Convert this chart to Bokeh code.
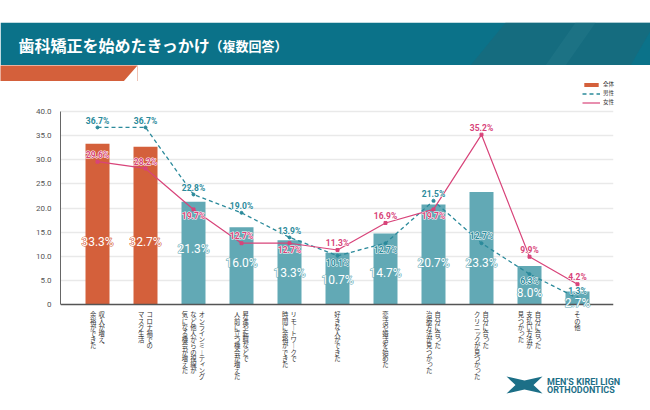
from bokeh.plotting import figure
from bokeh.layouts import column
from bokeh.models import (ColumnDataSource, Range1d, FixedTicker, LabelSet, Label, Span,
                          BoxAnnotation, Legend, LegendItem)
from bokeh.core.properties import value
from bokeh.embed import file_html
from bokeh.resources import INLINE

# ---------------- data ----------------
cat_lines = [
    ["収入が増え、", "余裕ができた"],
    ["コロナ禍での", "マスク生活"],
    ["オンラインミーティング", "など他人からの視線が", "気になる機会が増えた"],
    ["昇進や転職などで", "人前に立つ機会が増えた"],
    ["リモートワークで", "時間に余裕ができた"],
    ["好きな人ができた"],
    ["恋活や婚活を始めた"],
    ["自分に合った", "治療方法が見つかった"],
    ["自分に合った", "クリニックが見つかった"],
    ["自分に合った", "支払い方法が", "見つかった"],
    ["その他"],
]
zentai = [33.3, 32.7, 21.3, 16.0, 13.3, 10.7, 14.7, 20.7, 23.3, 8.0, 2.7]
male = [36.7, 36.7, 22.8, 19.0, 13.9, 10.1, 12.7, 21.5, 12.7, 6.3, 1.3]
female = [29.6, 28.2, 19.7, 12.7, 12.7, 11.3, 16.9, 19.7, 35.2, 9.9, 4.2]
y_ticks = [0, 5, 10, 15, 20, 25, 30, 35, 40]
y_tick_labels = ["0", "5.0", "10.0", "15.0", "20.0", "25.0", "30.0", "35.0", "40.0"]
series_names = ["全体", "男性", "女性"]
title_main = "歯科矯正を始めたきっかけ"
title_sub = "（複数回答）"
logo_lines = ["MEN’S KIREI LIGN", "ORTHODONTICS"]

# label placement (layout, not data)
bar_label_pos = [13.0, 13.0, 11.4, 8.5, 6.6, 5.0, 6.5, 8.5, 8.5, 2.3, 0.4]
male_side = [1, 1, 1, 1, 1, -1, -1, 1, 1, -1, 1]
female_side = [1, 1, -1, 1, -1, 1, 1, -1, 1, 1, 1]

# ---------------- styles ----------------
ORANGE = "#d4603b"
TEAL_BAR = "#62a9b5"
TEAL_LINE = "#2b8a9b"
PINK = "#d8447a"
HEADER = "#0b7289"
LOGO = "#1c6f87"
JP = "Noto Sans CJK JP"

W = 650
L, R = 60, 613            # chart frame left/right in page px
Y0PX = 304                # page px of value 0
YS = 4.825                # px per unit
X0, X1 = -0.771, 10.75
XS = (R - L) / (X1 - X0)

HA1 = 65                  # header band
HS = 16                   # orange accent strip
HL = 27                   # legend strip
BTOP, BBOT = HA1 + HS + HL, 309
HC = 410 - BBOT
ACC_TOP, ACC_BOT = 137, 123   # accent right edge (top / bottom), px

XA0, XA1 = X0 - L / XS, X1 + (W - R) / XS


def xd(px):
    return X0 + (px - L) / XS


def bare(h, name):
    f = figure(width=W, height=h, x_range=Range1d(XA0, XA1), y_range=Range1d(h, 0),
               output_backend="svg", toolbar_location=None, x_axis_type=None, y_axis_type=None,
               min_border=0, min_border_left=0, min_border_right=0, min_border_top=0,
               min_border_bottom=0, name=name, frame_align=False)
    f.outline_line_color = None
    f.grid.visible = False
    return f


# ================= header band =================
pa = bare(HA1, "header")
pa.add_layout(BoxAnnotation(left=xd(0), right=xd(650), top=22.3, bottom=65,
                            fill_color=HEADER, fill_alpha=1, line_color=None))
pa.patch(x=[xd(470), xd(505), xd(650), xd(650), xd(630)], y=[65, 22.3, 22.3, 30, 65],
         fill_color="#1f6676", fill_alpha=0.5, line_color=None, level="overlay")
pa.patch(x=[xd(545), xd(575), xd(595), xd(565)], y=[65, 22.3, 22.3, 65],
         fill_color="#2a7f8e", fill_alpha=0.35, line_color=None, level="overlay")
pa.add_layout(Label(x=xd(18), y=44, text=title_main, text_color="white",
                    text_font=JP, text_font_size="16px", text_font_style="bold",
                    text_baseline="middle"))
pa.add_layout(Label(x=xd(209), y=44.5, text=title_sub, text_color="white",
                    text_font=JP, text_font_size="13px", text_font_style="bold",
                    text_baseline="middle"))

# ================= orange accent strip (frame background is the accent) =================
ps = figure(width=W, height=HS, x_range=Range1d(0, ACC_TOP), y_range=Range1d(HS, 0),
            output_backend="svg", toolbar_location=None, x_axis_type=None, y_axis_type=None,
            min_border=0, min_border_left=0, min_border_right=W - ACC_TOP, min_border_top=0,
            min_border_bottom=0, frame_align=False, name="accent")
ps.outline_line_color = None
ps.grid.visible = False
ps.background_fill_color = ORANGE
ps.border_fill_color = "white"
ps.patch(x=[ACC_TOP, ACC_TOP, ACC_BOT], y=[0, HS, HS], fill_color="white", line_color=None)

# ================= legend strip =================
pl = bare(HL, "legend")
offview = ColumnDataSource(dict(x=[XA0 - 5], y=[0]))
lb = pl.vbar(x="x", top="y", width=0.5, fill_color=ORANGE, line_color=None, source=offview)
lm = pl.line("x", "y", source=offview, line_color=TEAL_LINE, line_width=1.3, line_dash="4 3")
lf = pl.line("x", "y", source=offview, line_color=PINK, line_width=1.2)
legend = Legend(items=[LegendItem(label=series_names[0], renderers=[lb]),
                       LegendItem(label=series_names[1], renderers=[lm]),
                       LegendItem(label=series_names[2], renderers=[lf])],
                location=(582, 2), orientation="vertical",
                glyph_width=18, glyph_height=5, label_height=5, spacing=1, padding=0, margin=0,
                label_standoff=3, label_text_font=JP, label_text_font_size="5.5px",
                label_text_color="#333333", border_line_color=None, background_fill_alpha=0)
pl.add_layout(legend)

# ================= chart figure =================
hb = BBOT - BTOP
p = figure(width=W, height=hb, x_range=Range1d(X0, X1),
           y_range=Range1d(-(BBOT - Y0PX) / YS, (Y0PX - BTOP) / YS),
           output_backend="svg", toolbar_location=None, frame_align=False,
           min_border_left=L, min_border_right=W - R, min_border_top=0, min_border_bottom=0)
p.outline_line_color = None
p.xaxis.visible = False

p.yaxis.ticker = FixedTicker(ticks=y_ticks)
p.yaxis.bounds = (y_ticks[0], y_ticks[-1])
p.yaxis.major_label_overrides = {t: s for t, s in zip(y_ticks, y_tick_labels)}
p.yaxis.major_tick_line_color = None
p.yaxis.minor_tick_line_color = None
p.yaxis.major_tick_out = 0
p.yaxis.major_tick_in = 0
p.yaxis.major_label_standoff = 9
p.yaxis.major_label_text_font = "Roboto"
p.yaxis.major_label_text_font_size = "8px"
p.yaxis.major_label_text_color = "#555555"
p.yaxis.axis_line_color = "#666666"
p.yaxis.axis_line_width = 1

p.xgrid.visible = False
p.ygrid.ticker = FixedTicker(ticks=y_ticks[1:])
p.ygrid.grid_line_color = "#e9e9e9"
p.ygrid.grid_line_width = 1.6

p.add_layout(Span(location=0, dimension="width", line_color="#555555", line_width=1.5))

idx = list(range(len(zentai)))
bar_colors = [ORANGE if i < 2 else TEAL_BAR for i in idx]
src = ColumnDataSource(dict(
    x=idx, zentai=zentai, male=male, female=female, color=bar_colors,
    zl=[f"{v:.1f}%" for v in zentai], zpos=bar_label_pos,
    ml=[f"{v:.1f}%" for v in male], fl=[f"{v:.1f}%" for v in female],
    my=[v + s * 6.8 / YS for v, s in zip(male, male_side)],
    fy=[v + s * 6.8 / YS for v, s in zip(female, female_side)],
))

p.vbar(x="x", top="zentai", width=0.5, fill_color="color", line_color=None, source=src)
p.line("x", "male", source=src, line_color=TEAL_LINE, line_width=1.3, line_dash="4 3")
p.scatter("x", "male", source=src, size=3, color=TEAL_LINE, marker="circle")
p.line("x", "female", source=src, line_color=PINK, line_width=1.2)
p.scatter("x", "female", source=src, size=3, color=PINK, marker="square")

# bar value labels: halo in bar colour, then white text
p.add_layout(LabelSet(x="x", y="zpos", text="zl", source=src, text_align="center",
                      text_baseline="middle", text_color="color", text_font=value("Roboto"),
                      text_font_size="12px", text_outline_color="color"))
p.add_layout(LabelSet(x="x", y="zpos", text="zl", source=src, text_align="center",
                      text_baseline="middle", text_color="white", text_font=value("Roboto"),
                      text_font_size="12px"))
# line value labels: white halo, then coloured text
for col, colr in (("m", TEAL_LINE), ("f", PINK)):
    p.add_layout(LabelSet(x="x", y=col + "y", text=col + "l", source=src, text_align="center",
                          text_baseline="middle", text_color="white", text_font=value("Roboto"),
                          text_font_size="8.5px", text_font_style="bold",
                          text_outline_color="white"))
    p.add_layout(LabelSet(x="x", y=col + "y", text=col + "l", source=src, text_align="center",
                          text_baseline="middle", text_color=colr, text_font=value("Roboto"),
                          text_font_size="8.5px", text_font_style="bold"))

# ================= footer figure (vertical category labels, logo) =================
pc = bare(HC, "footer")
vert = {"、": "︑", "ー": "︱"}
small = set("ゃゅょっャュョッァィゥェォ")
cx, cy, ct = [], [], []
for i, cols in enumerate(cat_lines):
    n = len(cols)
    for j, colt in enumerate(cols):
        off = ((n - 1) / 2 - j) * 8.5
        for k, ch in enumerate(colt):
            ox, oy = (0.8, -0.8) if ch in small else (0.0, 0.0)
            cx.append(i + (off + ox) / XS)
            cy.append(5.3 + k * 6.2 + oy)
            ct.append(vert.get(ch, ch))
csrc = ColumnDataSource(dict(x=cx, y=cy, t=ct))
pc.add_layout(LabelSet(x="x", y="y", text="t", source=csrc, text_align="center",
                       text_baseline="middle", text_color="#333333", text_font=value(JP),
                       text_font_size="6.3px"))

ly = lambda Y: Y - BBOT
pc.patch(x=[xd(506), xd(524), xd(542), xd(533), xd(542), xd(524), xd(506), xd(515)],
         y=[ly(376), ly(380), ly(376), ly(384.5), ly(393), ly(389), ly(393), ly(384.5)],
         fill_color=LOGO, line_color=None)
pc.add_layout(Label(x=xd(546.5), y=ly(381), text=logo_lines[0], text_color=LOGO,
                    text_font="Roboto", text_font_size="9px", text_font_style="bold",
                    text_baseline="middle"))
pc.add_layout(Label(x=xd(546.5), y=ly(389.8), text=logo_lines[1], text_color=LOGO,
                    text_font="Roboto", text_font_size="9px", text_font_style="bold",
                    text_baseline="middle"))

layout = column(pa, ps, pl, p, pc, spacing=0)
open("out.html", "w").write(file_html(layout, INLINE))
